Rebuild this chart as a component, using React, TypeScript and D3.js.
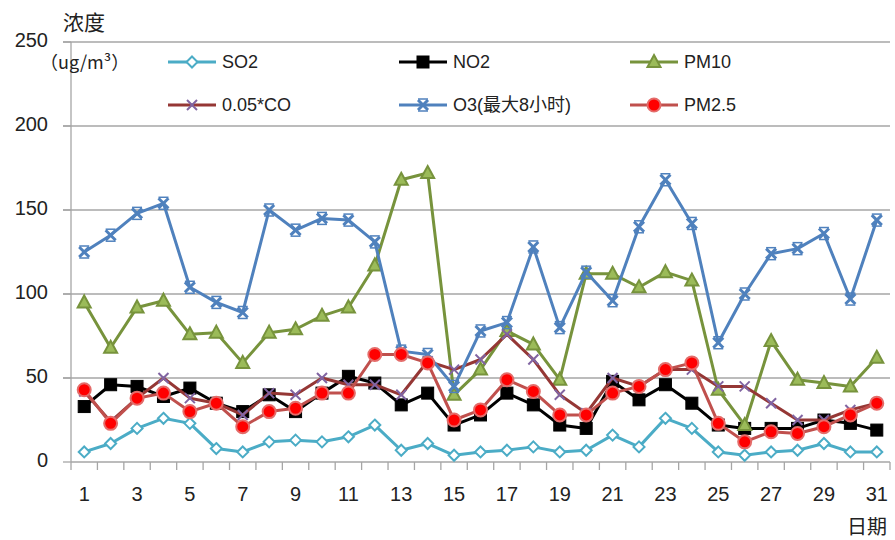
import React from "react";
import * as d3 from "d3";

const days = [1,2,3,4,5,6,7,8,9,10,11,12,13,14,15,16,17,18,19,20,21,22,23,24,25,26,27,28,29,30,31];
const dayLabels = ["1","3","5","7","9","11","13","15","17","19","21","23","25","27","29","31"];
const yTicks = [0, 50, 100, 150, 200, 250];

const so2 = [6,11,20,26,23,8,6,12,13,12,15,22,7,11,4,6,7,9,6,7,16,9,26,20,6,4,6,7,11,6,6];
const no2 = [33,46,45,39,44,35,30,40,30,41,51,47,34,41,22,28,41,34,22,20,48,37,46,35,22,20,20,20,25,23,19];
const pm10 = [95,68,92,96,76,77,59,77,79,87,92,117,168,172,40,55,78,70,49,112,112,104,113,108,43,22,72,49,47,45,62];
const co = [42,24,38,50,38,35,28,41,40,50,46,46,40,60,55,61,76,61,40,29,50,45,55,55,45,45,35,25,25,31,35];
const o3 = [125,135,148,154,104,95,89,150,138,145,144,131,66,64,45,78,83,128,80,113,96,140,168,142,71,100,124,127,136,97,144];
const pm25 = [43,23,38,41,30,35,21,30,32,41,41,64,64,59,25,31,49,42,28,28,41,45,55,59,23,12,18,17,21,28,35];

const seriesNames = ["SO2", "NO2", "PM10", "0.05*CO", "O3(最大8小时)", "PM2.5"];

type Series = { name: string; values: number[]; line: string; marker: string };

const series: Series[] = [
  { name: seriesNames[0], values: so2, line: "#4bacc6", marker: "diamond" },
  { name: seriesNames[1], values: no2, line: "#000000", marker: "square" },
  { name: seriesNames[2], values: pm10, line: "#77933c", marker: "triangle" },
  { name: seriesNames[3], values: co, line: "#953735", marker: "x" },
  { name: seriesNames[4], values: o3, line: "#4f81bd", marker: "star" },
  { name: seriesNames[5], values: pm25, line: "#c0504d", marker: "circle" },
];

const FONT = "'Liberation Sans', 'Noto Sans CJK SC', sans-serif";
const CJK = "'Noto Sans CJK SC', sans-serif";

function Marker({ type, x, y }: { type: string; x: number; y: number }) {
  switch (type) {
    case "diamond":
      return <path d={`M${x},${y - 5.5}L${x + 5.5},${y}L${x},${y + 5.5}L${x - 5.5},${y}Z`} fill="#fff" stroke="#4bacc6" strokeWidth={2} />;
    case "square":
      return <rect x={x - 6} y={y - 6} width={12} height={12} fill="#000" stroke="#000" strokeWidth={1} />;
    case "triangle":
      return <path d={`M${x},${y - 7}L${x + 6.5},${y + 5}L${x - 6.5},${y + 5}Z`} fill="#9bbb59" stroke="#77933c" strokeWidth={2} />;
    case "x":
      return (
        <g stroke="#8064a2" strokeWidth={2}>
          <line x1={x - 5} y1={y - 5} x2={x + 5} y2={y + 5} />
          <line x1={x - 5} y1={y + 5} x2={x + 5} y2={y - 5} />
        </g>
      );
    case "star":
      return (
        <g stroke="#4f81bd" strokeWidth={3}>
          <line x1={x - 5} y1={y - 5} x2={x + 5} y2={y + 5} />
          <line x1={x - 5} y1={y + 5} x2={x + 5} y2={y - 5} />
          <line x1={x - 5} y1={y - 6} x2={x + 5} y2={y - 6} strokeWidth={1.5} />
          <line x1={x - 5} y1={y + 6} x2={x + 5} y2={y + 6} strokeWidth={1.5} />
        </g>
      );
    case "circle":
      return <circle cx={x} cy={y} r={6.5} fill="#ff0000" stroke="#e46c6a" strokeWidth={2} />;
    default:
      return null;
  }
}

export default function App() {
  const width = 895;
  const height = 540;
  const x = d3.scaleBand<number>().domain(days).range([71, 890]).padding(0);
  const y = d3.scaleLinear().domain([0, 250]).range([462, 42]);
  const cx = (d: number) => (x(d) as number) + x.bandwidth() / 2;
  const lineGen = d3.line<number>().x((_, i) => cx(days[i])).y((v) => y(v));

  const boundaries = days.map((d) => x(d) as number).concat([890]);

  const legendPos = [
    { lx: 168, ly: 62 },
    { lx: 399, ly: 62 },
    { lx: 630, ly: 62 },
    { lx: 168, ly: 105 },
    { lx: 399, ly: 105 },
    { lx: 630, ly: 105 },
  ];

  return (
    <svg width={width} height={height} style={{ position: "absolute", left: 0, top: 0, background: "#fff" }}>
      {yTicks.map((t) => (
        <g key={t}>
          {t > 0 && <line x1={63} x2={890} y1={y(t)} y2={y(t)} stroke="#a6a6a6" strokeWidth={1.3} />}
          <line x1={63} x2={71} y1={y(t)} y2={y(t)} stroke="#a6a6a6" strokeWidth={1.3} />
          <text x={48} y={y(t) - 2} dy="0.35em" textAnchor="end" fontSize={20} fontFamily={FONT} fill="#222">
            {t}
          </text>
        </g>
      ))}
      <line x1={71} x2={71} y1={42} y2={462} stroke="#a6a6a6" strokeWidth={1.3} />
      <line x1={71} x2={890} y1={462} y2={462} stroke="#a6a6a6" strokeWidth={1.3} />
      {boundaries.map((b, i) => (
        <line key={i} x1={b} x2={b} y1={462} y2={470} stroke="#a6a6a6" strokeWidth={1.3} />
      ))}
      {dayLabels.map((l) => (
        <text key={l} x={cx(+l)} y={494} dy="0.35em" textAnchor="middle" fontSize={20} fontFamily={FONT} fill="#222">
          {l}
        </text>
      ))}
      <text x={63} y={23} dy="0.35em" fontSize={21} fontFamily={CJK} fill="#222">浓度</text>
      <text x={40} y={63} dy="0.35em" fontSize={18} fontFamily={CJK} fill="#222">（ug/m³）</text>
      <text x={847} y={527} dy="0.35em" fontSize={20} fontFamily={CJK} fill="#222">日期</text>

      {series.map((s) => (
        <g key={s.name}>
          <path d={lineGen(s.values) || ""} fill="none" stroke={s.line} strokeWidth={3} strokeLinejoin="round" />
          {s.values.map((v, i) => (
            <Marker key={i} type={s.marker} x={cx(days[i])} y={y(v)} />
          ))}
        </g>
      ))}

      {series.map((s, i) => {
        const p = legendPos[i];
        return (
          <g key={s.name}>
            <line x1={p.lx} x2={p.lx + 48} y1={p.ly} y2={p.ly} stroke={s.line} strokeWidth={3} />
            <Marker type={s.marker} x={p.lx + 24} y={p.ly} />
            <text x={p.lx + 54} y={p.ly} dy="0.35em" fontSize={18} fontFamily={FONT} fill="#222">
              {s.name}
            </text>
          </g>
        );
      })}
    </svg>
  );
}
